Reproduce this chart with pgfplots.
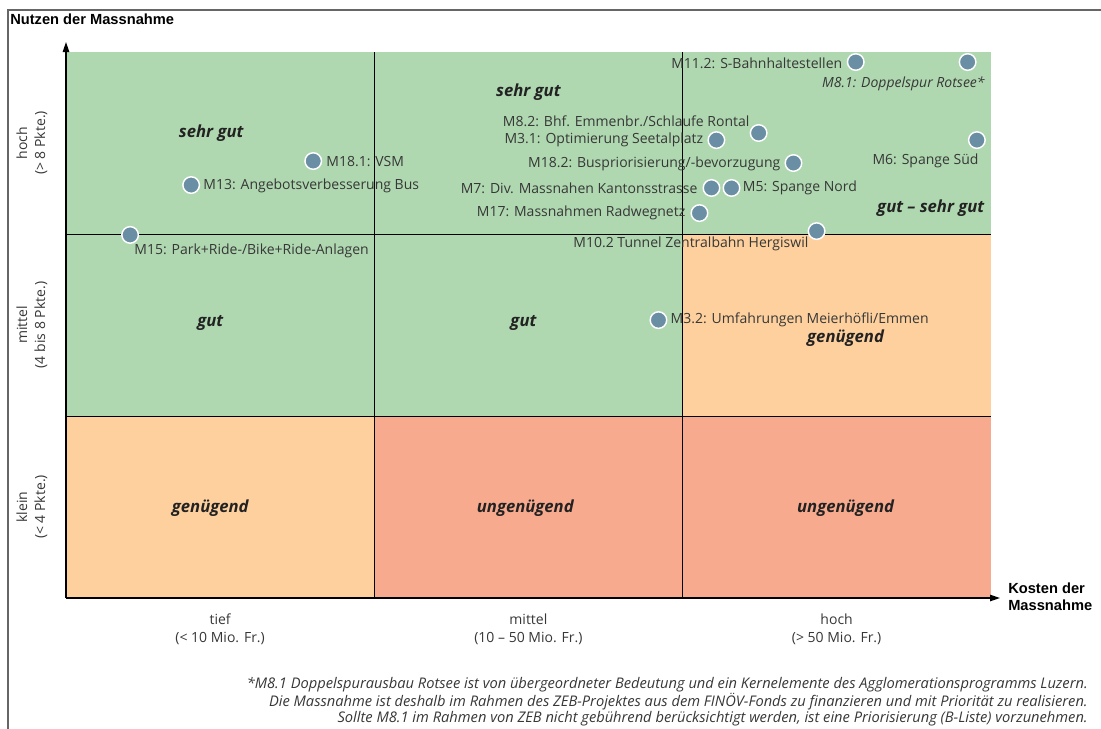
\documentclass[border=0pt]{standalone}
\usepackage{fontspec}
\setmainfont{Open Sans}
\newfontfamily\titlefont{Liberation Sans}
\usepackage{pgfplots}
\pgfplotsset{compat=1.18}
\usetikzlibrary{arrows.meta}
\definecolor{cgreen}{RGB}{175,216,176}
\definecolor{corange}{RGB}{253,208,158}
\definecolor{csalmon}{RGB}{247,170,142}
\definecolor{cdot}{RGB}{106,142,164}
\definecolor{ctext}{RGB}{55,55,55}
\definecolor{cdark}{RGB}{34,34,34}
\newcommand\lab{\fontsize{10.5}{13.5}\selectfont}
\newcommand\cat{\fontsize{12.5}{14}\selectfont\bfseries\itshape}
\begin{document}
\begin{tikzpicture}
\useasboundingbox (0,0) rectangle (825.75pt,-546.75pt);
\begin{axis}[
  at={(49.5pt,-448.5pt)}, anchor=south west,
  scale only axis, width=700.5pt, height=417pt,
  xmin=0, xmax=3.03, ymin=0, ymax=3.055,
  axis lines=left, axis on top,
  axis line style={line width=1.1pt, -{Triangle[length=7.5pt,width=4.8pt]}},
  xtick={0.5,1.5,2.5}, ytick={0.5,1.5,2.5},
  xticklabels={{tief\\(< 10 Mio. Fr.)},{mittel\\(10 – 50 Mio. Fr.)},{hoch\\(> 50 Mio. Fr.)}},
  yticklabels={{klein\\(< 4 Pkte.)},{mittel\\(4 bis 8 Pkte.)},{hoch\\(> 8 Pkte.)}},
  major tick length=0pt,
  xticklabel style={align=center, font=\lab, text=ctext, yshift=-8pt},
  yticklabel style={xshift=-10.5pt, rotate=90, anchor=south, align=center, font=\lab, text=ctext},
  clip=false,
]
\addplot[fill=cgreen, draw=none] coordinates {(0,2) (3,2) (3,3) (0,3)} -- cycle;
\addplot[fill=cgreen, draw=none] coordinates {(0,1) (2,1) (2,2) (0,2)} -- cycle;
\addplot[fill=corange, draw=none] coordinates {(2,1) (3,1) (3,2) (2,2)} -- cycle;
\addplot[fill=corange, draw=none] coordinates {(0,0) (1,0) (1,1) (0,1)} -- cycle;
\addplot[fill=csalmon, draw=none] coordinates {(1,0) (3,0) (3,1) (1,1)} -- cycle;
\addplot[black, line width=0.75pt] coordinates {(1,0) (1,3)};
\addplot[black, line width=0.75pt] coordinates {(2,0) (2,3)};
\addplot[black, line width=0.75pt] coordinates {(0,1) (3,1)};
\addplot[black, line width=0.75pt] coordinates {(0,2) (3,2)};
\addplot[only marks, mark=*, mark size=6.2pt, mark options={fill=cdot, draw=white, line width=1.1pt}] coordinates {
 (2.562,2.945) (2.925,2.945) (2.247,2.555) (2.110,2.516) (2.955,2.516)
 (2.360,2.390) (2.094,2.253) (2.159,2.253) (2.055,2.115) (2.435,2.016)
 (1.922,1.527) (0.802,2.401) (0.406,2.269) (0.208,1.995)};
% point labels
\begin{scope}[every node/.style={font=\lab, text=ctext, inner sep=0pt}]
\node[anchor=east] at (axis cs:2.519,2.940) {M11.2: S-Bahnhaltestellen};
\node[anchor=east, font=\lab\itshape] at (axis cs:2.981,2.824) {M8.1: Doppelspur Rotsee*};
\node[anchor=east] at (axis cs:2.218,2.621) {M8.2: Bhf. Emmenbr./Schlaufe Rontal};
\node[anchor=east] at (axis cs:2.068,2.516) {M3.1: Optimierung Seetalplatz};
\node[anchor=east] at (axis cs:2.961,2.401) {M6: Spange Süd};
\node[anchor=east] at (axis cs:2.318,2.385) {M18.2: Buspriorisierung/-bevorzugung};
\node[anchor=east] at (axis cs:2.049,2.253) {M7: Div. Massnahen Kantonsstrasse};
\node[anchor=west] at (axis cs:2.195,2.253) {M5: Spange Nord};
\node[anchor=east] at (axis cs:2.010,2.115) {M17: Massnahmen Radwegnetz};
\node[anchor=east] at (axis cs:2.409,1.945) {M10.2 Tunnel Zentralbahn Hergiswil};
\node[anchor=west] at (axis cs:1.961,1.527) {M3.2: Umfahrungen Meierhöfli/Emmen};
\node[anchor=west] at (axis cs:0.844,2.401) {M18.1: VSM};
\node[anchor=west] at (axis cs:0.445,2.264) {M13: Angebotsverbesserung Bus};
\node[anchor=west] at (axis cs:0.221,1.907) {M15: Park+Ride-/Bike+Ride-Anlagen};
\end{scope}
% category labels
\begin{scope}[every node/.style={font=\cat, text=cdark, inner sep=0pt}]
\node at (axis cs:0.471,2.555) {sehr gut};
\node at (axis cs:1.5,2.78) {sehr gut};
\node[anchor=east] at (axis cs:2.98,2.14) {gut – sehr gut};
\node at (axis cs:0.468,1.511) {gut};
\node at (axis cs:1.484,1.511) {gut};
\node at (axis cs:2.529,1.43) {genügend};
\node at (axis cs:0.468,0.495) {genügend};
\node at (axis cs:1.49,0.495) {ungenügend};
\node at (axis cs:2.529,0.495) {ungenügend};
\end{scope}
\end{axis}
\begin{scope}[x=0.75pt,y=-0.75pt]
\draw[gray!80!black, line width=1.1pt] (8,729) -- (8,10) -- (1101,10);
\node[anchor=west, inner sep=0pt, font=\titlefont\fontsize{11}{13}\selectfont\bfseries] at (10,19) {Nutzen der Massnahme};
\node[anchor=west, inner sep=0pt, align=left, font=\titlefont\fontsize{11}{13}\selectfont\bfseries] at (1008,597) {Kosten der\\Massnahme};
\begin{scope}[every node/.style={anchor=east, inner sep=0pt, font=\fontsize{11}{13}\selectfont\itshape, text=ctext}]
\node at (1088,685) {*M8.1 Doppelspurausbau Rotsee ist von übergeordneter Bedeutung und ein Kernelemente des Agglomerationsprogramms Luzern.};
\node at (1088,702) {Die Massnahme ist deshalb im Rahmen des ZEB-Projektes aus dem FINÖV-Fonds zu finanzieren und mit Priorität zu realisieren.};
\node at (1088,719) {Sollte M8.1 im Rahmen von ZEB nicht gebührend berücksichtigt werden, ist eine Priorisierung (B-Liste) vorzunehmen.};
\end{scope}
\end{scope}
\end{tikzpicture}
\end{document}
